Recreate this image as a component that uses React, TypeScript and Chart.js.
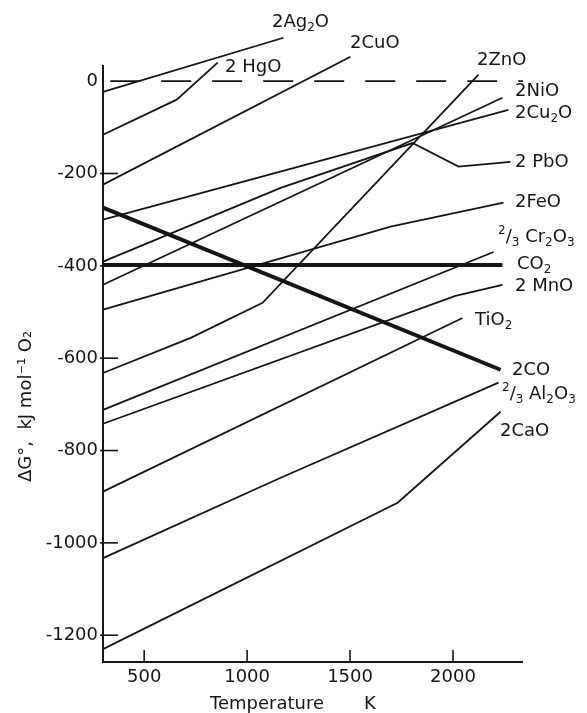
import React, { useEffect, useRef } from "react";
import { Chart, registerables } from "chart.js";

Chart.register(...registerables);

const FONT = '"DejaVu Sans", sans-serif';
const INK = "#151515";

// axis ticks
const xTickValues = [500, 1000, 1500, 2000];
const yTickValues = [0, -200, -400, -600, -800, -1000, -1200];

// series: temperature (K) and ΔG° (kJ mol⁻¹ O₂)
const ag2oT = [300, 1177];
const ag2oG = [-23, 94];
const hgoT = [300, 658, 857];
const hgoG = [-116, -40, 40];
const cuoT = [300, 1502];
const cuoG = [-224, 53];
const cu2oT = [300, 2269];
const cu2oG = [-300, -62];
const nioT = [300, 2240];
const nioG = [-441, -36];
const pboT = [300, 1163, 1803, 2027, 2279];
const pboG = [-391, -231, -134, -185, -175];
const feoT = [300, 1697, 2245];
const feoG = [-495, -315, -263];
const znoT = [300, 726, 1075, 2124];
const znoG = [-632, -556, -480, 14];
const cr2o3T = [300, 2197];
const cr2o3G = [-712, -370];
const mnoT = [300, 2012, 2240];
const mnoG = [-742, -465, -441];
const tio2T = [300, 2046];
const tio2G = [-889, -513];
const al2o3T = [300, 1163, 2221];
const al2o3G = [-1033, -859, -653];
const caoT = [300, 1731, 2231];
const caoG = [-1230, -913, -716];
const coT = [300, 2231];
const coG = [-274, -625];
const co2T = [300, 2240];
const co2G = [-398, -398];
const zeroT = [335, 2340];
const zeroG = [0, 0];

type Seg = [string, "n" | "sub" | "sup"];

const seriesNames = [
  "2Ag2O", "2HgO", "2CuO", "2Cu2O", "2NiO", "2PbO", "2FeO", "2ZnO",
  "2/3Cr2O3", "2MnO", "TiO2", "2/3Al2O3", "2CaO", "CO2", "2CO",
];

// label texts (with sub/superscripts)
const labelTexts: Seg[][] = [
  [["2Ag", "n"], ["2", "sub"], ["O", "n"]],
  [["2 HgO", "n"]],
  [["2CuO", "n"]],
  [["2Cu", "n"], ["2", "sub"], ["O", "n"]],
  [["2NiO", "n"]],
  [["2 PbO", "n"]],
  [["2FeO", "n"]],
  [["2ZnO", "n"]],
  [["2", "sup"], ["/", "n"], ["3", "sub"], [" Cr", "n"], ["2", "sub"], ["O", "n"], ["3", "sub"]],
  [["2 MnO", "n"]],
  [["TiO", "n"], ["2", "sub"]],
  [["2", "sup"], ["/", "n"], ["3", "sub"], [" Al", "n"], ["2", "sub"], ["O", "n"], ["3", "sub"]],
  [["2CaO", "n"]],
  [["CO", "n"], ["2", "sub"]],
  [["2CO", "n"]],
];

// label anchors in data coordinates (T, ΔG)
const labelAnchorT = [1121, 893, 1500, 2301, 2301, 2301, 2301, 2117, 2219, 2301, 2107, 2238, 2228, 2311, 2287];
const labelAnchorG = [128, 31, 83, -69, -23, -175, -262, 46, -338, -444, -517, -678, -758, -396, -626];

const seriesT = [ag2oT, hgoT, cuoT, cu2oT, nioT, pboT, feoT, znoT, cr2o3T, mnoT, tio2T, al2o3T, caoT, co2T, coT];
const seriesG = [ag2oG, hgoG, cuoG, cu2oG, nioG, pboG, feoG, znoG, cr2o3G, mnoG, tio2G, al2o3G, caoG, co2G, coG];
const thickSeries = ["CO2", "2CO"];

function pts(T: number[], G: number[]) {
  return T.map((t, i) => ({ x: t, y: G[i] }));
}

function drawSegs(ctx: CanvasRenderingContext2D, segs: Seg[], x: number, y: number) {
  let cx = x;
  for (const [t, k] of segs) {
    const size = k === "n" ? 18 : 12;
    ctx.font = `${size}px ${FONT}`;
    const dy = k === "sub" ? 6 : k === "sup" ? -6 : 0;
    ctx.fillText(t, cx, y + dy);
    cx += ctx.measureText(t).width;
  }
}

const decorPlugin = {
  id: "decor",
  afterDatasetsDraw(chart: any) {
    const { ctx, chartArea, scales } = chart;
    const xs = scales.x;
    const ys = scales.y;
    ctx.save();
    ctx.strokeStyle = INK;
    ctx.lineWidth = 2;
    ctx.beginPath();
    ctx.moveTo(chartArea.left, chartArea.top);
    ctx.lineTo(chartArea.left, chartArea.bottom);
    ctx.lineTo(chartArea.right, chartArea.bottom);
    ctx.stroke();
    ctx.lineWidth = 1.6;
    for (const v of yTickValues) {
      if (v === 0) continue;
      const py = ys.getPixelForValue(v);
      ctx.beginPath();
      ctx.moveTo(chartArea.left - 3, py);
      ctx.lineTo(chartArea.left + 15, py);
      ctx.stroke();
    }
    for (const v of xTickValues) {
      const px = xs.getPixelForValue(v);
      ctx.beginPath();
      ctx.moveTo(px, chartArea.bottom);
      ctx.lineTo(px, chartArea.bottom - 12);
      ctx.stroke();
    }
    ctx.fillStyle = INK;
    ctx.textBaseline = "middle";
    ctx.textAlign = "left";
    labelTexts.forEach((segs, i) => {
      const px = xs.getPixelForValue(labelAnchorT[i]);
      const py = ys.getPixelForValue(labelAnchorG[i]);
      drawSegs(ctx, segs, px, py);
    });
    ctx.restore();
  },
};

export default function App() {
  const ref = useRef<HTMLCanvasElement | null>(null);
  useEffect(() => {
    if (!ref.current) return;
    const datasets: any[] = seriesNames.map((name, i) => ({
      label: name,
      data: pts(seriesT[i], seriesG[i]),
      borderColor: INK,
      borderWidth: thickSeries.includes(name) ? 4 : 1.8,
      pointRadius: 0,
      tension: 0,
      fill: false,
      clip: false,
    }));
    datasets.push({
      label: "zero",
      data: pts(zeroT, zeroG),
      borderColor: INK,
      borderWidth: 1.6,
      borderDash: [30, 21],
      pointRadius: 0,
      fill: false,
      clip: false,
    });
    const chart = new Chart(ref.current, {
      type: "line",
      data: { datasets },
      plugins: [decorPlugin],
      options: {
        animation: false,
        responsive: false,
        devicePixelRatio: 1,
        layout: { padding: { top: 65, right: 64, left: 0, bottom: 0 } },
        plugins: { legend: { display: false }, tooltip: { enabled: false } },
        scales: {
          x: {
            type: "linear",
            min: 300,
            max: 2340,
            grid: { display: false, drawTicks: false },
            border: { display: false },
            afterBuildTicks: (s: any) => {
              s.ticks = xTickValues.map((v) => ({ value: v }));
            },
            afterFit: (s: any) => {
              s.height = 51;
            },
            ticks: {
              autoSkip: false,
              maxRotation: 0,
              padding: 5,
              color: INK,
              font: { family: FONT, size: 18 },
              callback: (v: any) => String(v),
            },
            title: {
              display: true,
              text: "Temperature       K       ",
              color: INK,
              font: { family: FONT, size: 18, lineHeight: 1 },
              padding: 0,
            },
          },
          y: {
            type: "linear",
            min: -1258,
            max: 35,
            grid: { display: false, drawTicks: false },
            border: { display: false },
            afterBuildTicks: (s: any) => {
              s.ticks = yTickValues.map((v) => ({ value: v }));
            },
            afterFit: (s: any) => {
              s.width = 103;
            },
            ticks: {
              autoSkip: false,
              padding: 5,
              color: INK,
              font: { family: FONT, size: 18 },
              callback: (v: any) => String(v),
            },
            title: {
              display: true,
              text: "ΔG°,  kJ mol⁻¹ O₂               ",
              color: INK,
              font: { family: FONT, size: 18, lineHeight: 1 },
              padding: { top: 17, bottom: 0 },
            },
          },
        },
      },
    });
    return () => chart.destroy();
  }, []);
  return (
    <div style={{ position: "absolute", left: 0, top: 0, width: 587, height: 713, background: "#fff" }}>
      <canvas ref={ref} width={587} height={713} style={{ display: "block", width: 587, height: 713 }} />
    </div>
  );
}
